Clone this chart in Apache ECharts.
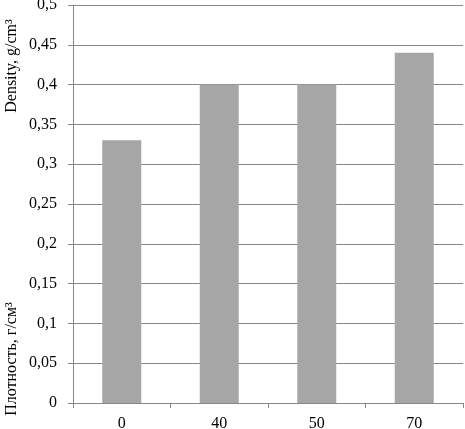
<!DOCTYPE html>
<html>
<head>
<meta charset="utf-8">
<script src="https://cdn.jsdelivr.net/npm/echarts@6/dist/echarts.min.js"></script>
<style>html,body{margin:0;padding:0;background:#fff}#c{width:465px;height:429px}</style>
</head>
<body>
<div id="c"></div>
<script>
const categories = ['0', '40', '50', '70'];
const densityValues = [0.33, 0.40, 0.40, 0.44];
const labelEn = 'Density, g/cm³';
const labelRu = 'Плотность, г/см³';
const font = '"Liberation Serif", "Times New Roman", serif';

const chart = echarts.init(document.getElementById('c'), null, {renderer: 'canvas'});
chart.setOption({
  animation: false,
  textStyle: {fontFamily: font},
  grid: {left: 73, right: 2, top: 5, bottom: 26, containLabel: false, outerBoundsMode: 'none'},
  xAxis: {
    type: 'category',
    data: categories,
    axisLine: {lineStyle: {color: '#888', width: 1}},
    axisTick: {show: true, alignWithLabel: false, length: 5, lineStyle: {color: '#888'}},
    axisLabel: {fontFamily: font, fontSize: 16, color: '#000', margin: 13}
  },
  yAxis: {
    type: 'value',
    min: 0, max: 0.5, interval: 0.05,
    axisLine: {show: true, lineStyle: {color: '#888', width: 1}},
    axisTick: {show: true, length: 5, lineStyle: {color: '#888'}},
    splitLine: {show: true, lineStyle: {color: '#888', width: 1}},
    axisLabel: {
      fontFamily: font, fontSize: 16, color: '#000', margin: 16,
      formatter: v => String(+v.toFixed(2)).replace('.', ',')
    }
  },
  series: [{
    type: 'bar',
    data: densityValues,
    barWidth: '40%',
    itemStyle: {color: '#a6a6a6'}
  }],
  graphic: [
    {type: 'text', x: 12, y: 66, rotation: Math.PI / 2,
     style: {text: labelEn, font: '16px ' + font, fill: '#000', align: 'center', verticalAlign: 'middle'}},
    {type: 'text', x: 12, y: 359, rotation: Math.PI / 2,
     style: {text: labelRu, font: '16px ' + font, fill: '#000', align: 'center', verticalAlign: 'middle'}}
  ]
});
</script>
</body>
</html>
